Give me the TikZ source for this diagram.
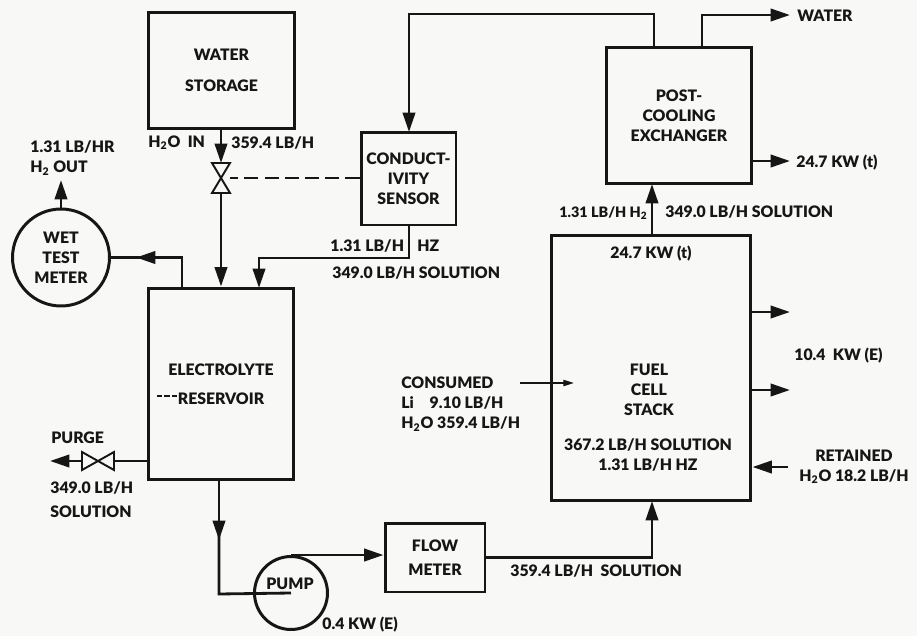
\documentclass[tikz,border=0pt]{standalone}
\usepackage{fontspec}
\setmainfont{Lato}[BoldFont={Lato Black}]
\usetikzlibrary{arrows.meta}
\definecolor{paper}{RGB}{248,248,246}
\definecolor{ink}{RGB}{22,22,22}
\newcommand{\labelfont}{\fontsize{9}{11.4}\selectfont\bfseries}
\tikzset{
  unitbox/.style={draw=ink, line width=1.7pt, align=center, inner sep=0pt, text=ink, font=\labelfont},
  tagtext/.style={text=ink, font=\labelfont, inner sep=0pt, align=left},
  pipe/.style={draw=ink, line width=1.6pt},
  flow/.style={pipe, -{Triangle[length=11pt, width=7pt]}},
  valvebody/.style={inner sep=0pt, outer sep=0pt},
  valveline/.style={draw=ink, line width=1.1pt},
}
\begin{document}
\begin{tikzpicture}[x=0.02cm, y=-0.02cm]
    \fill[paper] (0,0) rectangle (917,636);
    \useasboundingbox (0,0) rectangle (917,636);

    % Units
    \node[unitbox, minimum width=2.94cm, minimum height=2.34cm] (storage) at (221.5,70.5) {WATER\\[6pt]STORAGE};
    \node[unitbox, minimum width=1.90cm, minimum height=1.86cm] (sensor) at (408.5,178.5) {CONDUCT-\\IVITY\\SENSOR};
    \node[unitbox, circle, minimum size=1.94cm] (meter) at (61,257.5) {WET\\TEST\\METER};
    \node[unitbox, minimum width=2.92cm, minimum height=3.84cm] (reservoir) at (221,384) {ELECTROLYTE\\[5pt]RESERVOIR};
    \node[unitbox, minimum width=2.92cm, minimum height=2.74cm] (post) at (679,115.5) {POST-\\COOLING\\EXCHANGER};
    \node[unitbox, minimum width=4.00cm, minimum height=5.32cm] (stack) at (651,368) {};
    \node[unitbox, minimum width=2.00cm, minimum height=1.38cm] (flowmeter) at (435,557.5) {FLOW\\[2pt]METER};
    \node[unitbox, circle, minimum size=1.46cm] (pump) at (291,593) {};
    \node[tagtext] (pumptag) at (290,584) {PUMP};

    % Valves
    \node[valvebody, minimum width=0.36cm, minimum height=0.60cm] (feedvalve) at (221,178) {};
    \node[valvebody, minimum width=0.64cm, minimum height=0.36cm] (purgevalve) at (98,461) {};
    \draw[valveline] (feedvalve.north west) -- (feedvalve.north east) -- (feedvalve.south west) -- (feedvalve.south east) -- cycle;
    \draw[valveline] (purgevalve.north west) -- (purgevalve.south west) -- (purgevalve.north east) -- (purgevalve.south east) -- cycle;

    % Free ends
    \coordinate (h2out) at (61,180);
    \coordinate (purgeout) at (50,461);
    \coordinate (waterout) at (790,15);
    \coordinate (heatout) at (790,161);
    \coordinate (powerA) at (790,312);
    \coordinate (powerB) at (790,390);
    \coordinate (retained) at (788,467);
    \coordinate (consumedA) at (520,383);
    \coordinate (consumedB) at (574,383);

    % Water feed and sensor
    \draw[flow] (feedvalve.north |- storage.south) -- (feedvalve.north);
    \draw[flow] (feedvalve.south) -- (feedvalve.south |- reservoir.north);
    \draw[pipe, dashed, dash pattern=on 8pt off 3.5pt, line width=1.2pt] (sensor.west |- feedvalve.east) -- (feedvalve.east);
    \draw[flow] (654,47) -- (654,14) -- (409,14) -- (409,132);
    \draw[flow] (409,225) -- (409,258) -- (259,258) -- (259,288);

    % Meter off the reservoir
    \draw[flow] (182,288) -- (182,257.5) -- (136,257.5);
    \draw[pipe] (140,257.5) -- (meter.east);
    \draw[flow] (meter.north) -- (h2out);

    % Purge line
    \draw[pipe] (reservoir.west |- purgevalve.east) -- (purgevalve.east);
    \draw[flow] (purgevalve.west) -- (purgeout);

    % Loop through the pump
    \draw[flow] (219,480) -- (219,540);
    \draw[pipe] (219,535) -- (219,594) -- (pump.center);
    \draw[flow] (pump.north) -- (pump.north -| flowmeter.west);
    \draw[flow] (flowmeter.east) -- (652,557.5) -- (652,501);
    \draw[flow] (652,235) -- (652,184);

    % Stack and exchanger outlets
    \draw[pipe] (702,47) -- (702,15) -- (760,15);
    \draw[flow] (755,15) -- (waterout);
    \draw[flow] (post.east |- heatout) -- (heatout);
    \draw[flow] (stack.east |- powerA) -- (powerA);
    \draw[flow] (stack.east |- powerB) -- (powerB);
    \draw[flow] (retained) -- (stack.east |- retained);
    \draw[draw=ink, line width=0.9pt, -{Triangle[length=6pt, width=3.5pt]}] (consumedA) -- (consumedB);
    \draw[draw=ink, line width=0.6pt, dashed, dash pattern=on 3pt off 1.2pt] (157,396) -- (180,396);

    % Flow labels
    \node[tagtext, anchor=west] (h2tag) at (30,158) {1.31 LB/HR\\H\textsubscript{2} OUT};
    \node[tagtext, anchor=west] (h2intag) at (148,143) {H\textsubscript{2}O\ \ IN};
    \node[tagtext, anchor=west] (feedtag) at (231,143) {359.4 LB/H};
    \node[tagtext, anchor=west] (gasA) at (330,246) {1.31 LB/H};
    \node[tagtext, anchor=west] (gasB) at (417,246) {HZ};
    \node[tagtext, anchor=west] (solA) at (332,273) {349.0 LB/H SOLUTION};
    \node[tagtext, anchor=west] (purgetag) at (51,438) {PURGE};
    \node[tagtext, anchor=west] (purgeflow) at (50,499.5) {349.0 LB/H\\[2.5pt]SOLUTION};
    \node[tagtext, anchor=west] (consumedtag) at (401,404) {CONSUMED\\Li\quad 9.10 LB/H\\H\textsubscript{2}O 359.4 LB/H};
    \node[tagtext, anchor=west] (pumppower) at (322,625) {0.4 KW\ (E)};
    \node[tagtext, anchor=west] (watertag) at (797,16) {WATER};
    \node[tagtext, anchor=west] (heattag) at (796,163) {24.7\ KW (t)};
    \node[tagtext, anchor=east, font=\fontsize{8.2}{10}\selectfont\bfseries] (gasC) at (648,213) {1.31 LB/H H\textsubscript{2}};
    \node[tagtext, anchor=west] (solB) at (665,212) {349.0 LB/H SOLUTION};
    \node[tagtext] (stackheat) at (651,254) {24.7 KW (t)};
    \node[tagtext, anchor=west] (powertag) at (794,356) {10.4\ \ KW (E)};
    \node[tagtext, align=center] (stacktag) at (649,390) {FUEL\\CELL\\STACK};
    \node[tagtext, align=center] (stackflow) at (648,455) {367.2 LB/H SOLUTION\\1.31 LB/H HZ};
    \node[tagtext, align=center] (retainedtag) at (854,466.5) {RETAINED\\H\textsubscript{2}O 18.2 LB/H};
    \node[tagtext, anchor=west] (outflow) at (510,571) {359.4 LB/H\ \ SOLUTION};
\end{tikzpicture}
\end{document}
